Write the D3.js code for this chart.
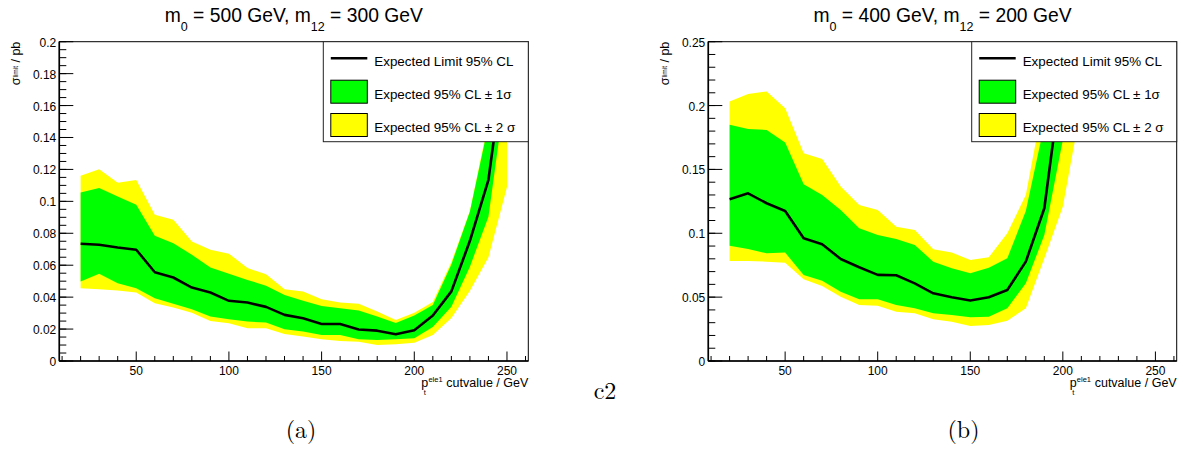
<!DOCTYPE html>
<html>
<head>
<meta charset="utf-8">
<script src="https://cdn.jsdelivr.net/npm/d3@7"></script>
<style>
  html, body { margin: 0; padding: 0; background: #fff; }
  svg { display: block; }
  text { font-family: "Liberation Sans", Arial, Helvetica, sans-serif; fill: #000; }
</style>
</head>
<body>
<script>
// ---------------- DATA ----------------
const cutValues = [20, 30, 40, 50, 60, 70, 80, 90, 100, 110, 120, 130, 140, 150, 160, 170, 180, 190, 200, 210, 220, 230, 240, 250];

// Panel (a): m0 = 500 GeV, m12 = 300 GeV
const medianA   = [0.0734, 0.0728, 0.0711, 0.0697, 0.0556, 0.0523, 0.0460, 0.0429, 0.0377, 0.0366, 0.0339, 0.0289, 0.0268, 0.0232, 0.0232, 0.0197, 0.0190, 0.0167, 0.0193, 0.0285, 0.0436, 0.0753, 0.1135, 0.2000];
const sigma1HiA = [0.1056, 0.1084, 0.1031, 0.0979, 0.0785, 0.0738, 0.0665, 0.0586, 0.0546, 0.0508, 0.0471, 0.0414, 0.0377, 0.0345, 0.0331, 0.0316, 0.0278, 0.0238, 0.0285, 0.0350, 0.0605, 0.0936, 0.1480, 0.2400];
const sigma1LoA = [0.0498, 0.0546, 0.0487, 0.0456, 0.0393, 0.0358, 0.0324, 0.0278, 0.0262, 0.0247, 0.0241, 0.0199, 0.0184, 0.0163, 0.0163, 0.0136, 0.0132, 0.0136, 0.0142, 0.0213, 0.0340, 0.0591, 0.0904, 0.1750];
const sigma2HiA = [0.1161, 0.1201, 0.1117, 0.1134, 0.0916, 0.0885, 0.0749, 0.0697, 0.0672, 0.0582, 0.0544, 0.0450, 0.0435, 0.0387, 0.0366, 0.0358, 0.0310, 0.0257, 0.0303, 0.0370, 0.0620, 0.0940, 0.1500, 0.2700];
const sigma2LoA = [0.0456, 0.0450, 0.0441, 0.0429, 0.0362, 0.0335, 0.0303, 0.0251, 0.0236, 0.0205, 0.0205, 0.0169, 0.0153, 0.0136, 0.0126, 0.0121, 0.0100, 0.0105, 0.0114, 0.0163, 0.0270, 0.0440, 0.0650, 0.1090];

// Panel (b): m0 = 400 GeV, m12 = 200 GeV
const medianB   = [0.1266, 0.1313, 0.1235, 0.1175, 0.0961, 0.0914, 0.0799, 0.0734, 0.0674, 0.0671, 0.0608, 0.0530, 0.0499, 0.0473, 0.0499, 0.0556, 0.0778, 0.1196, 0.2300, 0.3300, 0.4500, 0.6000, 0.8000, 1.0000];
const sigma1HiB = [0.1849, 0.1817, 0.1809, 0.1710, 0.1384, 0.1300, 0.1183, 0.1039, 0.0987, 0.0956, 0.0909, 0.0778, 0.0726, 0.0687, 0.0731, 0.0804, 0.1175, 0.1850, 0.3000, 0.4200, 0.5500, 0.7200, 0.9500, 1.2000];
const sigma1LoB = [0.0903, 0.0877, 0.0843, 0.0849, 0.0674, 0.0629, 0.0543, 0.0483, 0.0483, 0.0439, 0.0413, 0.0373, 0.0360, 0.0342, 0.0347, 0.0413, 0.0608, 0.0987, 0.1730, 0.2500, 0.3500, 0.4800, 0.6200, 0.8000];
const sigma2HiB = [0.2031, 0.2091, 0.2110, 0.1979, 0.1627, 0.1582, 0.1366, 0.1222, 0.1183, 0.1052, 0.1026, 0.0875, 0.0849, 0.0791, 0.0812, 0.1000, 0.1300, 0.2070, 0.3200, 0.4500, 0.6000, 0.8000, 1.0000, 1.3000];
const sigma2LoB = [0.0783, 0.0783, 0.0778, 0.0770, 0.0640, 0.0587, 0.0504, 0.0439, 0.0433, 0.0386, 0.0373, 0.0326, 0.0308, 0.0274, 0.0282, 0.0316, 0.0413, 0.0804, 0.1209, 0.2000, 0.2800, 0.3800, 0.5000, 0.6500];

// Axis ticks / labels
const xMajorTicks = [50, 100, 150, 200, 250];
const xMinorTicks = [10, 20, 30, 40, 60, 70, 80, 90, 110, 120, 130, 140, 160, 170, 180, 190, 210, 220, 230, 240, 260];
const yMajorTicksA = [0, 0.02, 0.04, 0.06, 0.08, 0.1, 0.12, 0.14, 0.16, 0.18, 0.2];
const yTickLabelsA = ["0", "0.02", "0.04", "0.06", "0.08", "0.1", "0.12", "0.14", "0.16", "0.18", "0.2"];
const yMinorStepA = 0.005;
const yMajorTicksB = [0, 0.05, 0.1, 0.15, 0.2, 0.25];
const yTickLabelsB = ["0", "0.05", "0.1", "0.15", "0.2", "0.25"];
const yMinorStepB = 0.01;

const legendLabels = ["Expected Limit 95% CL", "Expected 95% CL \u00B1 1\u03C3", "Expected 95% CL \u00B1 2 \u03C3"];

// ---------------- DRAW ----------------
const W = 1185, H = 450;
const svg = d3.select("body").append("svg").attr("width", W).attr("height", H);

const GREEN = "#00ff00", YELLOW = "#ffff00";

function drawPanel(p) {
  const g = svg.append("g");
  const x = d3.scaleLinear().domain([8.5, 261.5]).range([p.left, p.right]);
  const y = d3.scaleLinear().domain([0, p.yMax]).range([p.bottom, p.top]);

  const clipId = "clip" + p.id;
  svg.append("clipPath").attr("id", clipId)
    .append("rect").attr("x", p.left).attr("y", p.top)
    .attr("width", p.right - p.left).attr("height", p.bottom - p.top);

  const pts = cutValues.map((c, i) => ({ c, m: p.median[i], l1: p.lo1[i], h1: p.hi1[i], l2: p.lo2[i], h2: p.hi2[i] }));
  const plot = g.append("g").attr("clip-path", `url(#${clipId})`);
  const area2 = d3.area().x(d => x(d.c)).y0(d => y(d.l2)).y1(d => y(d.h2));
  const area1 = d3.area().x(d => x(d.c)).y0(d => y(d.l1)).y1(d => y(d.h1));
  const line = d3.line().x(d => x(d.c)).y(d => y(d.m));
  plot.append("path").attr("d", area2(pts)).attr("fill", YELLOW);
  plot.append("path").attr("d", area1(pts)).attr("fill", GREEN);
  plot.append("path").attr("d", line(pts)).attr("fill", "none").attr("stroke", "#000")
    .attr("stroke-width", 2.6).attr("stroke-linejoin", "round");

  // frame
  g.append("rect").attr("x", p.left).attr("y", p.top)
    .attr("width", p.right - p.left).attr("height", p.bottom - p.top)
    .attr("fill", "none").attr("stroke", "#000").attr("stroke-width", 1);
  // axis lines (slightly heavier)
  g.append("line").attr("x1", p.left).attr("x2", p.left).attr("y1", p.top).attr("y2", p.bottom)
    .attr("stroke", "#000").attr("stroke-width", 1.6);
  g.append("line").attr("x1", p.left).attr("x2", p.right).attr("y1", p.bottom).attr("y2", p.bottom)
    .attr("stroke", "#000").attr("stroke-width", 1.6);

  // y ticks
  const yMinor = d3.range(0, p.yMax + 1e-9, p.yMinorStep);
  g.selectAll(null).data(yMinor).enter().append("line")
    .attr("x1", p.left).attr("x2", p.left + 7)
    .attr("y1", d => y(d)).attr("y2", d => y(d))
    .attr("stroke", "#000").attr("stroke-width", 1);
  g.selectAll(null).data(p.yMajor).enter().append("line")
    .attr("x1", p.left).attr("x2", p.left + 14)
    .attr("y1", d => y(d)).attr("y2", d => y(d))
    .attr("stroke", "#000").attr("stroke-width", 1);
  g.selectAll(null).data(p.yMajor).enter().append("text")
    .attr("x", p.left - 3).attr("y", d => y(d) + 5)
    .attr("text-anchor", "end").attr("font-size", 12)
    .text((d, i) => p.yLabels[i]);

  // x ticks
  g.selectAll(null).data(xMinorTicks).enter().append("line")
    .attr("x1", d => x(d)).attr("x2", d => x(d))
    .attr("y1", p.bottom).attr("y2", p.bottom - 5)
    .attr("stroke", "#000").attr("stroke-width", 1);
  g.selectAll(null).data(xMajorTicks).enter().append("line")
    .attr("x1", d => x(d)).attr("x2", d => x(d))
    .attr("y1", p.bottom).attr("y2", p.bottom - 9.5)
    .attr("stroke", "#000").attr("stroke-width", 1);
  g.selectAll(null).data(xMajorTicks).enter().append("text")
    .attr("x", d => x(d)).attr("y", p.bottom + 13.5)
    .attr("text-anchor", "middle").attr("font-size", 12)
    .text(d => String(d));

  // x axis title
  const xBase = p.bottom + 26;
  const xt = g.append("text").attr("x", p.right).attr("y", xBase)
    .attr("text-anchor", "end").attr("font-size", 12.5).text("cutvalue / GeV");
  const w = xt.node().getComputedTextLength();
  const cutStart = p.right - w;
  g.append("text").attr("x", cutStart - 25).attr("y", xBase).attr("font-size", 12.5).text("p");
  g.append("text").attr("x", cutStart - 22.5).attr("y", xBase + 7.5).attr("font-size", 7.5).text("t");
  g.append("text").attr("x", cutStart - 3.7).attr("y", xBase - 5.5).attr("font-size", 7.5)
    .attr("text-anchor", "end").text("ele1");

  // y axis title
  const yt = g.append("text")
    .attr("transform", `translate(${p.left - 39},${p.top}) rotate(-90)`)
    .attr("text-anchor", "end").attr("font-size", 12.5);
  yt.append("tspan").text("\u03C3");
  yt.append("tspan").attr("font-size", 6.5).attr("dy", -2).text("limit");
  yt.append("tspan").attr("dy", 2).text(" / pb");

  // title
  const cx = (p.left + p.right) / 2;
  const tt = g.append("text").attr("x", cx).attr("y", 22).attr("text-anchor", "middle").attr("font-size", 19.3);
  tt.append("tspan").text("m");
  tt.append("tspan").attr("font-size", 12.5).attr("dy", 9).text(p.sub1);
  tt.append("tspan").attr("dy", -9).text(` = ${p.v1} GeV, m`);
  tt.append("tspan").attr("font-size", 12.5).attr("dy", 9).text(p.sub2);
  tt.append("tspan").attr("dy", -9).text(` = ${p.v2} GeV`);

  // legend
  const lx0 = p.right - 205, ly0 = p.top, lw = 205, lh = 100;
  const lg = g.append("g");
  lg.append("rect").attr("x", lx0).attr("y", ly0).attr("width", lw).attr("height", lh)
    .attr("fill", "#fff").attr("stroke", "#222").attr("stroke-width", 1);
  lg.append("line").attr("x1", lx0 + 7.5).attr("x2", lx0 + 44)
    .attr("y1", ly0 + 16.6).attr("y2", ly0 + 16.6).attr("stroke", "#000").attr("stroke-width", 2.6);
  lg.append("rect").attr("x", lx0 + 7.5).attr("y", ly0 + 38.5).attr("width", 36.5).attr("height", 23)
    .attr("fill", GREEN).attr("stroke", "#000").attr("stroke-width", 1);
  lg.append("rect").attr("x", lx0 + 7.5).attr("y", ly0 + 71.8).attr("width", 36.5).attr("height", 23)
    .attr("fill", YELLOW).attr("stroke", "#000").attr("stroke-width", 1);
  const lys = [ly0 + 24, ly0 + 57.3, ly0 + 90.6];
  legendLabels.forEach((t, i) => {
    lg.append("text").attr("x", lx0 + 51).attr("y", lys[i]).attr("font-size", 13.4).text(t);
  });
}

drawPanel({ id: "A", left: 59.3, right: 528.3, top: 41.7, bottom: 361, yMax: 0.2,
  median: medianA, lo1: sigma1LoA, hi1: sigma1HiA, lo2: sigma2LoA, hi2: sigma2HiA,
  yMajor: yMajorTicksA, yLabels: yTickLabelsA, yMinorStep: yMinorStepA,
  sub1: "0", v1: 500, sub2: "12", v2: 300 });

drawPanel({ id: "B", left: 708.3, right: 1176.7, top: 41.7, bottom: 361, yMax: 0.25,
  median: medianB, lo1: sigma1LoB, hi1: sigma1HiB, lo2: sigma2LoB, hi2: sigma2HiB,
  yMajor: yMajorTicksB, yLabels: yTickLabelsB, yMinorStep: yMinorStepB,
  sub1: "0", v1: 400, sub2: "12", v2: 200 });

// LaTeX caption labels
const serif = "'Latin Modern Roman', 'CMU Serif', 'DejaVu Serif', 'Liberation Serif', serif";
svg.append("text").attr("x", 605).attr("y", 399).attr("text-anchor", "middle")
  .attr("font-size", 24).style("font-family", serif).text("c2");
svg.append("text").attr("x", 301).attr("y", 438).attr("text-anchor", "middle")
  .attr("font-size", 24).style("font-family", serif).text("(a)");
svg.append("text").attr("x", 963.5).attr("y", 438).attr("text-anchor", "middle")
  .attr("font-size", 24).style("font-family", serif).text("(b)");
</script>
</body>
</html>
